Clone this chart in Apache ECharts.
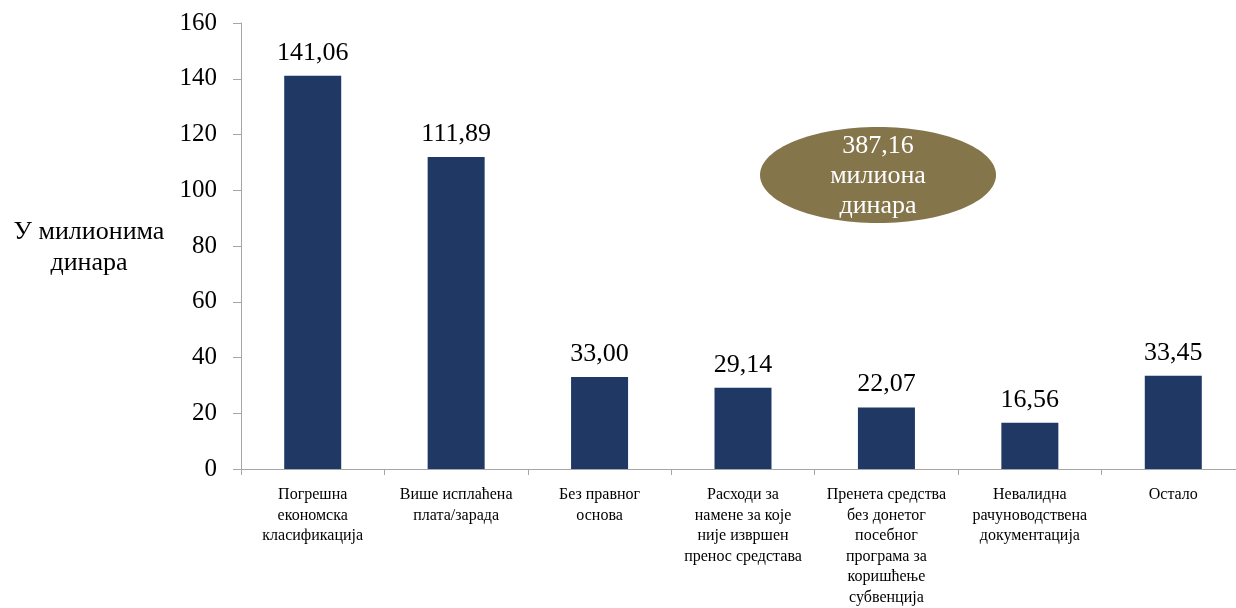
<!DOCTYPE html>
<html><head><meta charset="utf-8">
<script src="https://cdn.jsdelivr.net/npm/echarts@6/dist/echarts.min.js"></script>
<style>html,body{margin:0;padding:0;background:#fff;overflow:hidden}#c{width:1250px;height:608px}</style>
</head><body><div id="c"></div>
<script>
const categories = ["Погрешна\nекономска\nкласификација","Више исплаћена\nплата/зарада","Без правног\nоснова","Расходи за\nнамене за које\nније извршен\nпренос средстава","Пренета средства\nбез донетог\nпосебног\nпрограма за\nкоришћење\nсубвенција","Невалидна\nрачуноводствена\nдокументација","Остало"];
const values = [141.06, 111.89, 33.00, 29.14, 22.07, 16.56, 33.45];
const yTicks = [0, 20, 40, 60, 80, 100, 120, 140, 160];
const totalText = "387,16\nмилиона\nдинара";
const axisName = "У милионима\nдинара";

const font = "'Liberation Serif', 'Times New Roman', serif";
const chart = echarts.init(document.getElementById('c'));
chart.setOption({
  animation: false,
  grid: {left: 241, top: 23, width: 1004, height: 446, containLabel: false},
  xAxis: {
    type: 'category', data: categories,
    axisLine: {lineStyle: {color: '#a6a6a6'}},
    axisTick: {show: true, alignWithLabel: false, length: 6, lineStyle: {color: '#a6a6a6'}},
    axisLabel: {interval: 0, color: '#000', fontFamily: font, fontSize: 16, lineHeight: 20.5, margin: 16}
  },
  yAxis: {
    type: 'value', min: yTicks[0], max: yTicks[yTicks.length-1], interval: 20,
    splitLine: {show: false},
    axisLine: {show: true, lineStyle: {color: '#a6a6a6'}},
    axisTick: {show: true, length: 8, lineStyle: {color: '#a6a6a6'}},
    axisLabel: {color: '#000', fontFamily: font, fontSize: 25, margin: 24}
  },
  series: [{
    type: 'bar', data: values, barWidth: 57,
    itemStyle: {color: '#1F3864'},
    label: {show: true, position: 'top', distance: 10, color: '#000', fontFamily: font, fontSize: 26,
      formatter: p => p.value.toFixed(2).replace('.', ',')}
  }],
  graphic: [
    {type: 'ellipse', shape: {cx: 878, cy: 175, rx: 118, ry: 48}, style: {fill: '#85754B'}, z: 10},
    {type: 'text', x: 878, y: 176, z: 11, style: {text: totalText, fill: '#fff', font: "26px 'Liberation Serif', serif", align: 'center', verticalAlign: 'middle', lineHeight: 30}},
    {type: 'text', x: 89, y: 248, style: {text: axisName, fill: '#000', font: "26px 'Liberation Serif', serif", align: 'center', verticalAlign: 'middle', lineHeight: 31}}
  ]
});
</script></body></html>
